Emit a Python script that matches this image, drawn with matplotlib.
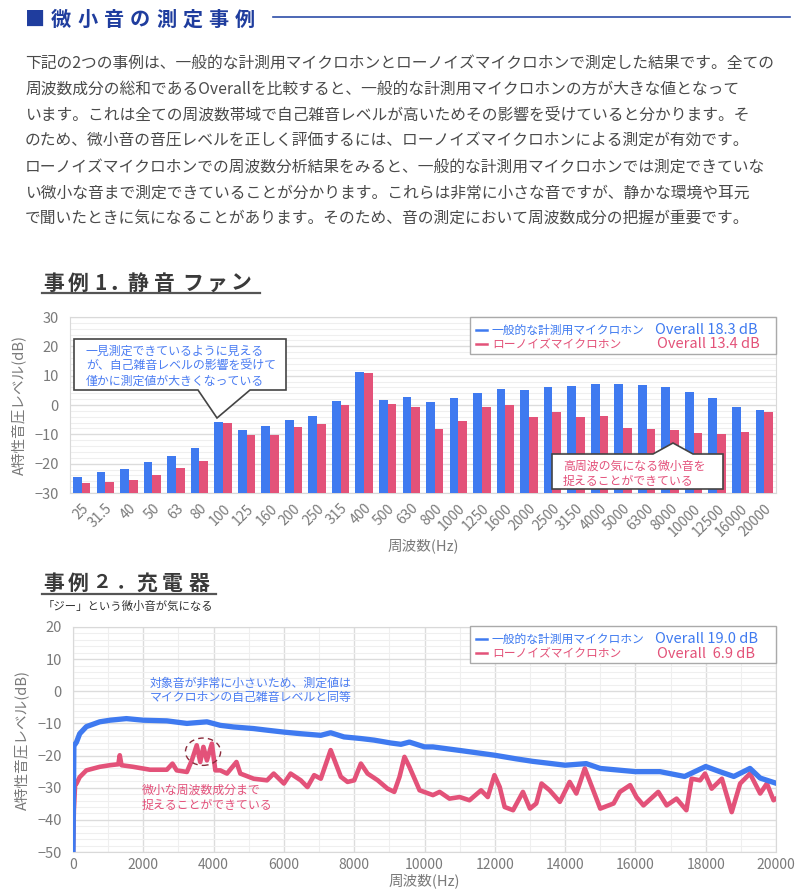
import numpy as np
import matplotlib
matplotlib.use("Agg")
import matplotlib.pyplot as plt
from matplotlib.patches import Polygon, Rectangle, Ellipse

plt.rcParams['font.family'] = ['Noto Sans CJK JP', 'DejaVu Sans']

# =============================
# Données
# =============================
bands = ["25", "31.5", "40", "50", "63", "80", "100", "125", "160", "200", "250", "315",
         "400", "500", "630", "800", "1000", "1250", "1600", "2000", "2500", "3150",
         "4000", "5000", "6300", "8000", "10000", "12500", "16000", "20000"]
fan_general = [-24.6, -22.9, -21.9, -19.6, -17.3, -14.8, -5.7, -8.5, -7.0, -5.0, -3.7, 1.4,
               11.2, 1.8, 2.6, 0.9, 2.3, 4.2, 5.3, 5.1, 6.1, 6.6, 7.1, 7.0, 6.9, 6.1,
               4.5, 2.4, -0.7, -1.7]
fan_lownoise = [-26.7, -26.3, -25.6, -24.0, -21.6, -19.1, -6.1, -10.1, -10.2, -7.4, -6.6, 0.1,
                10.8, 0.3, -0.7, -8.2, -5.4, -0.6, 0.1, -4.0, -2.4, -4.2, -3.9, -7.7, -8.3, -8.5,
                -9.6, -9.9, -9.2, -2.3]

chg_general_f = [0, 25, 100, 190, 380, 760, 1050, 1520, 2000, 2670, 3240, 3810, 4190, 4570,
                 5140, 5520, 6000, 6480, 7050, 7330, 7710, 8190, 8570, 9050, 9330, 9570,
                 10000, 10240, 11000, 12000, 12600, 13080, 14000, 14600, 15000, 16000, 16700,
                 17400, 18000, 18400, 18800, 19260, 19550, 20000]
chg_general_db = [-50, -17, -15.8, -13.2, -11, -9.5, -9, -8.5, -9, -9.2, -10, -9.5, -10.6, -11.1,
                  -11.6, -12.1, -12.7, -13.2, -13.7, -12.9, -14.2, -14.7, -15.2, -16.1, -16.5, -15.8,
                  -17.3, -17.3, -18.4, -19.9, -21, -21.8, -23, -22.5, -24, -25, -25,
                  -26.5, -23.4, -25, -26.5, -24, -27, -28.6]

chg_lownoise_f = [0, 25, 60, 100, 190, 380, 760, 1050, 1290, 1330, 1380, 1710, 2190, 2670, 2830,
                  2950, 3240, 3380, 3520, 3620, 3710, 3810, 3950, 4050, 4190, 4380, 4650, 4760,
                  5140, 5520, 5710, 6000, 6190, 6480, 6670, 6860, 7050, 7330, 7620, 7810, 8000,
                  8190, 8380, 8670, 8950, 9140, 9290, 9430, 9570, 9860, 10240, 10430, 10710,
                  11000, 11280, 11610, 11800, 11990, 12140, 12280, 12520, 12800, 13000, 13180,
                  13330, 13560, 13850, 14130, 14320, 14560, 14800, 15000, 15380, 15560, 15850,
                  16030, 16230, 16650, 16890, 17170, 17450, 17600, 17840, 17980, 18170, 18460,
                  18740, 18980, 19260, 19550, 19740, 19930, 20000]
chg_lownoise_db = [-50, -37, -29, -28.7, -26.7, -24.6, -23.5, -23, -22.7, -19.9, -23, -23.5, -24.4,
                   -24.4, -22.5, -24.6, -25.1, -21.5, -16.8, -22, -17.3, -21.5, -16.3, -24.6,
                   -24.6, -25.6, -22, -25.6, -27.2, -27.7, -25.6, -28.7, -25.6, -27.7, -29.8,
                   -26.1, -27.2, -18.3, -26.6, -28.2, -27.7, -22.5, -25.6, -27.7, -30.3, -31.3,
                   -26.6, -20.4, -23.5, -30.8, -32.3, -31.3, -33.4, -32.9, -33.9, -30.8, -32.9,
                   -26.1, -29.8, -36, -37, -31.3, -36.5, -34.9, -28.7, -30.8, -34.4, -28.2,
                   -31.8, -24, -30.8, -36.5, -34.9, -31.3, -29.2, -32.9, -35.5, -31.3, -35.5,
                   -33.4, -37, -27.2, -27.7, -25.6, -30.3, -27.2, -37.6, -28.7, -25.6, -31.8,
                   -28.7, -33.9, -33.4]

label_general = "一般的な計測用マイクロホン"
label_lownoise = "ローノイズマイクロホン"
overall_fan = ["Overall 18.3 dB", "Overall 13.4 dB"]
overall_chg = ["Overall 19.0 dB", "Overall  6.9 dB"]

paragraph = [
    "下記の2つの事例は、一般的な計測用マイクロホンとローノイズマイクロホンで測定した結果です。全ての",
    "周波数成分の総和であるOverallを比較すると、一般的な計測用マイクロホンの方が大きな値となって",
    "います。これは全ての周波数帯域で自己雑音レベルが高いためその影響を受けていると分かります。そ",
    "のため、微小音の音圧レベルを正しく評価するには、ローノイズマイクロホンによる測定が有効です。",
    "ローノイズマイクロホンでの周波数分析結果をみると、一般的な計測用マイクロホンでは測定できていな",
    "い微小な音まで測定できていることが分かります。これらは非常に小さな音ですが、静かな環境や耳元",
    "で聞いたときに気になることがあります。そのため、音の測定において周波数成分の把握が重要です。",
]

BLUE = "#3f7af0"
RED = "#e35279"
BLUE_TXT = "#4a7cf2"
RED_TXT = "#e3507a"
GRAY = "#7a7a7a"
W, H = 801, 896

# =============================
# Figure
# =============================
fig = plt.figure(figsize=(W / 100, H / 100), dpi=100)


def box(l, t, r, b):
    return [l / W, 1 - b / H, (r - l) / W, (b - t) / H]


def style_axes(ax):
    for s in ax.spines.values():
        s.set_color("#d9d9d9")
    ax.tick_params(length=0, colors=GRAY, labelsize=10.5)
    ax.tick_params(axis="y", pad=8)
    ax.grid(which="major", color="#dcdcdc", lw=1.0)
    ax.grid(which="minor", color="#efefef", lw=0.8)
    ax.set_axisbelow(True)


# --- Graphique 1 : barres ---
ax1 = fig.add_axes(box(70, 317, 776, 493))
x = np.arange(len(bands))
w = 0.37
ax1.bar(x - w / 2, np.array(fan_general) + 30, bottom=-30, width=w, color=BLUE, zorder=3)
ax1.bar(x + w / 2, np.array(fan_lownoise) + 30, bottom=-30, width=w, color=RED, zorder=3)
ax1.set_xlim(-0.5, len(bands) - 0.5)
ax1.set_ylim(-30, 30)
ax1.set_yticks(np.arange(-30, 31, 10))
ax1.set_yticks(np.arange(-30, 31, 2), minor=True)
ax1.set_xticks(x)
ax1.set_xticklabels(bands, rotation=45, ha="right", rotation_mode="anchor")
style_axes(ax1)
ax1.tick_params(axis="x", pad=6, labelsize=10)
ax1.grid(axis="x", which="both", visible=False)
ax1.tick_params(which="minor", length=0)
ax1.set_xlabel("周波数(Hz)", color=GRAY, fontsize=10.5, labelpad=0)
ax1.set_ylabel("A特性音圧レベル(dB)", color=GRAY, fontsize=10.5, labelpad=6)

# --- Graphique 2 : courbes ---
ax2 = fig.add_axes(box(73, 627, 776, 852))
ax2.plot(chg_lownoise_f, chg_lownoise_db, color=RED, lw=3.3, solid_joinstyle="round", zorder=3)
ax2.plot(chg_general_f, chg_general_db, color=BLUE, lw=3.8, solid_joinstyle="round", zorder=4)
ax2.set_xlim(0, 20000)
ax2.set_ylim(-50, 20)
ax2.set_xticks(np.arange(0, 20001, 2000))
ax2.set_xticks(np.arange(0, 20001, 1000), minor=True)
ax2.set_yticks(np.arange(-50, 21, 10))
ax2.set_yticks(np.arange(-50, 21, 2), minor=True)
style_axes(ax2)
ax2.tick_params(which="minor", length=0)
ax2.tick_params(axis="x", pad=4, labelsize=10)
ax2.set_xlabel("周波数(Hz)", color=GRAY, fontsize=10.5, labelpad=1)
ax2.set_ylabel("A特性音圧レベル(dB)", color=GRAY, fontsize=10.5, labelpad=6)
ax2.add_patch(Ellipse((3700, -18.8), 1000, 8.5, fill=False, ec="#8a2a3a", lw=1.0,
                      ls=(0, (4, 3)), zorder=5))

# --- Calque texte / annotations (coordonnées pixels) ---
ov = fig.add_axes([0, 0, 1, 1])
ov.set_xlim(0, W)
ov.set_ylim(H, 0)
ov.axis("off")
ov.set_zorder(10)
ov.patch.set_alpha(0)

# Titre principal
for i, ch in enumerate("■微小音の測定事例"):
    ov.text(25 + i * 26.2, 19, ch, fontsize=14.5, fontweight="bold",
            color="#1f3d9e", va="center", ha="left")
ov.plot([273, 790], [17, 17], color="#2e4ea8", lw=1.2)

for i, line in enumerate(paragraph):
    ov.text(25, 63 + i * 26.1, line, fontsize=11.35, color="#4a4a4a", va="center", ha="left")

# Sous-titres
sub1 = "事例1．静音ファン"
pos1 = [43, 68, 94, 108, 127, 154, 182, 207, 231]
for ch, px in zip(sub1, pos1):
    ov.text(px, 283, ch, fontsize=15, fontweight="bold", color="#3a3a3a",
            va="center", ha="left")
ov.plot([42, 260], [293.5, 293.5], color="#555555", lw=1.6)
sub2 = "事例２．充電器"
pos2 = [43, 68, 92, 116, 136, 162, 189]
sizes2 = [15, 15, 13.5, 13.5, 15, 15, 15]
for ch, px, fs in zip(sub2, pos2, sizes2):
    ov.text(px, 583, ch, fontsize=fs, fontweight="bold", color="#3a3a3a",
            va="center", ha="left")
ov.plot([42, 216], [594, 594], color="#555555", lw=1.6)
ov.text(43, 606, "「ジー」という微小音が気になる", fontsize=8.2, color="#333333", va="center")


def legend(top, overall):
    ov.add_patch(Rectangle((470, top), 306, 37, fc="white", ec="#aaaaaa", lw=1.0))
    for k, (lab, col) in enumerate([(label_general, BLUE), (label_lownoise, RED)]):
        yy = top + 13 + k * 14.5
        ov.plot([476, 487], [yy, yy], color=col, lw=1.8)
        ov.text(492, yy, lab, fontsize=8.5, color=col, va="center")
        ov.text(655 + 2 * k, yy, overall[k], fontsize=10.5, color=col, va="center")


legend(317, overall_fan)
legend(626, overall_chg)

# Bulle 1
ov.add_patch(Polygon([(74, 339), (286, 339), (286, 390), (250, 390), (217, 418),
                      (198, 390), (74, 390)], closed=True, fc="white", ec="#444444", lw=1.2))
for k, t in enumerate(["一見測定できているように見える",
                       "が、自己雑音レベルの影響を受けて",
                       "僅かに測定値が大きくなっている"]):
    ov.text(86, 351 + k * 15, t, fontsize=8.6, color=BLUE_TXT, va="center")

# Bulle 2
ov.add_patch(Polygon([(552, 454), (653, 454), (673, 443), (693, 454), (723, 454),
                      (723, 489), (552, 489)], closed=True, fc="white", ec="#444444", lw=1.2))
for k, t in enumerate(["高周波の気になる微小音を", "捉えることができている"]):
    ov.text(563, 466 + k * 15, t, fontsize=8.6, color=RED_TXT, va="center")

# Annotations graphique 2
for k, t in enumerate(["対象音が非常に小さいため、測定値は", "マイクロホンの自己雑音レベルと同等"]):
    ov.text(150, 683 + k * 15, t, fontsize=8.6, color=BLUE_TXT, va="center")
for k, t in enumerate(["微小な周波数成分まで", "捉えることができている"]):
    ov.text(142, 790 + k * 15, t, fontsize=8.6, color=RED_TXT, va="center")

fig.savefig("out.png", dpi=100, facecolor="white")
